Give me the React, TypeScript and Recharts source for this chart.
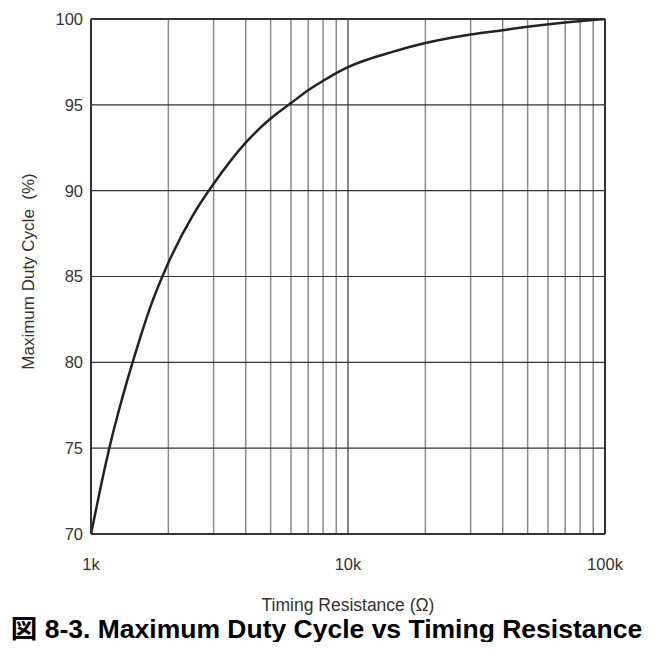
import { LineChart, Line, XAxis, YAxis, ReferenceLine } from "recharts";

const resistance = [1000, 1100, 1200, 1300, 1500, 1700, 2000, 2500, 3000, 4000, 5000, 6000, 7000, 8000, 9000, 10000, 15000, 20000, 30000, 40000, 50000, 70000, 100000];
const dutyCycle = [70, 73.0, 75.5, 77.5, 80.7, 83.2, 85.8, 88.6, 90.4, 92.8, 94.2, 95.1, 95.85, 96.4, 96.85, 97.2, 98.1, 98.6, 99.1, 99.35, 99.55, 99.8, 100];

const xTicks = [1000, 10000, 100000];
const xTickLabels = ["1k", "10k", "100k"];
const minorX = [2000, 3000, 4000, 5000, 6000, 7000, 8000, 9000, 20000, 30000, 40000, 50000, 60000, 70000, 80000, 90000];
const yTicks = [70, 75, 80, 85, 90, 95, 100];

const data = resistance.map((r, i) => ({ r, duty: dutyCycle[i] }));

const font = "'Liberation Sans', Arial, sans-serif";

const YLabel = (props: any) => {
    const { viewBox } = props;
    const cy = viewBox.y + viewBox.height / 2 - 5;
    return (
        <text
            x={26}
            y={cy}
            transform={`rotate(-90 26 ${cy})`}
            textAnchor="middle"
            fontSize={17}
            fontFamily={font}
            fill="#333"
            style={{ whiteSpace: "pre" }}
        >
            {"Maximum Duty Cycle  (%)"}
        </text>
    );
};

const XLabel = (props: any) => {
    const { viewBox } = props;
    return (
        <text
            x={viewBox.x + viewBox.width / 2}
            y={603}
            textAnchor="middle"
            fontSize={17.5}
            fontFamily={font}
            fill="#333"
        >
            Timing Resistance (Ω)
        </text>
    );
};

export default function App() {
    return (
        <div style={{ position: "relative", width: 637, height: 634 }}>
            <div style={{ position: "absolute", top: -7, left: -8, width: 653, height: 2, background: "#888" }} />
            <LineChart width={637} height={610} data={data} margin={{ top: 11, right: 40, left: 0, bottom: 0 }}>
                {minorX.map((v) => (
                    <ReferenceLine key={v} x={v} stroke="#8a8a8a" strokeWidth={1.5} />
                ))}
                <ReferenceLine x={10000} stroke="#333" strokeWidth={1.2} />
                {yTicks.slice(1, -1).map((v) => (
                    <ReferenceLine key={v} y={v} stroke="#333" strokeWidth={1.2} />
                ))}
                <ReferenceLine y={100} stroke="#333" strokeWidth={2} />
                <ReferenceLine x={100000} stroke="#333" strokeWidth={2} />
                <XAxis
                    dataKey="r"
                    type="number"
                    scale="log"
                    domain={[1000, 100000]}
                    ticks={xTicks}
                    tickFormatter={(v) => xTickLabels[xTicks.indexOf(v)]}
                    height={84}
                    tickLine={false}
                    tickMargin={18}
                    axisLine={{ stroke: "#333", strokeWidth: 2 }}
                    tick={{ fontSize: 16.5, fontFamily: font, fill: "#333" }}
                    allowDataOverflow
                    label={<XLabel />}
                />
                <YAxis
                    type="number"
                    domain={[70, 100]}
                    ticks={yTicks}
                    width={83}
                    tickLine={false}
                    axisLine={{ stroke: "#333", strokeWidth: 2 }}
                    tick={{ fontSize: 16.5, fontFamily: font, fill: "#333" }}
                    allowDataOverflow
                    label={<YLabel />}
                />
                <Line
                    type="monotone"
                    dataKey="duty"
                    stroke="#222"
                    strokeWidth={2.5}
                    dot={false}
                    isAnimationActive={false}
                />
            </LineChart>
            <svg
                width={653}
                height={44}
                style={{ position: "absolute", top: 598, left: -8 }}
            >
                <text
                    x={326.5}
                    y={31.5}
                    textAnchor="middle"
                    fontFamily={font}
                    fontWeight="bold"
                    fontSize={26.5}
                    fill="#000"
                >
                    <tspan fontFamily="'Noto Sans CJK JP', sans-serif">図</tspan>
                    <tspan> 8-3. Maximum Duty Cycle vs Timing Resistance</tspan>
                </text>
            </svg>
        </div>
    );
}
